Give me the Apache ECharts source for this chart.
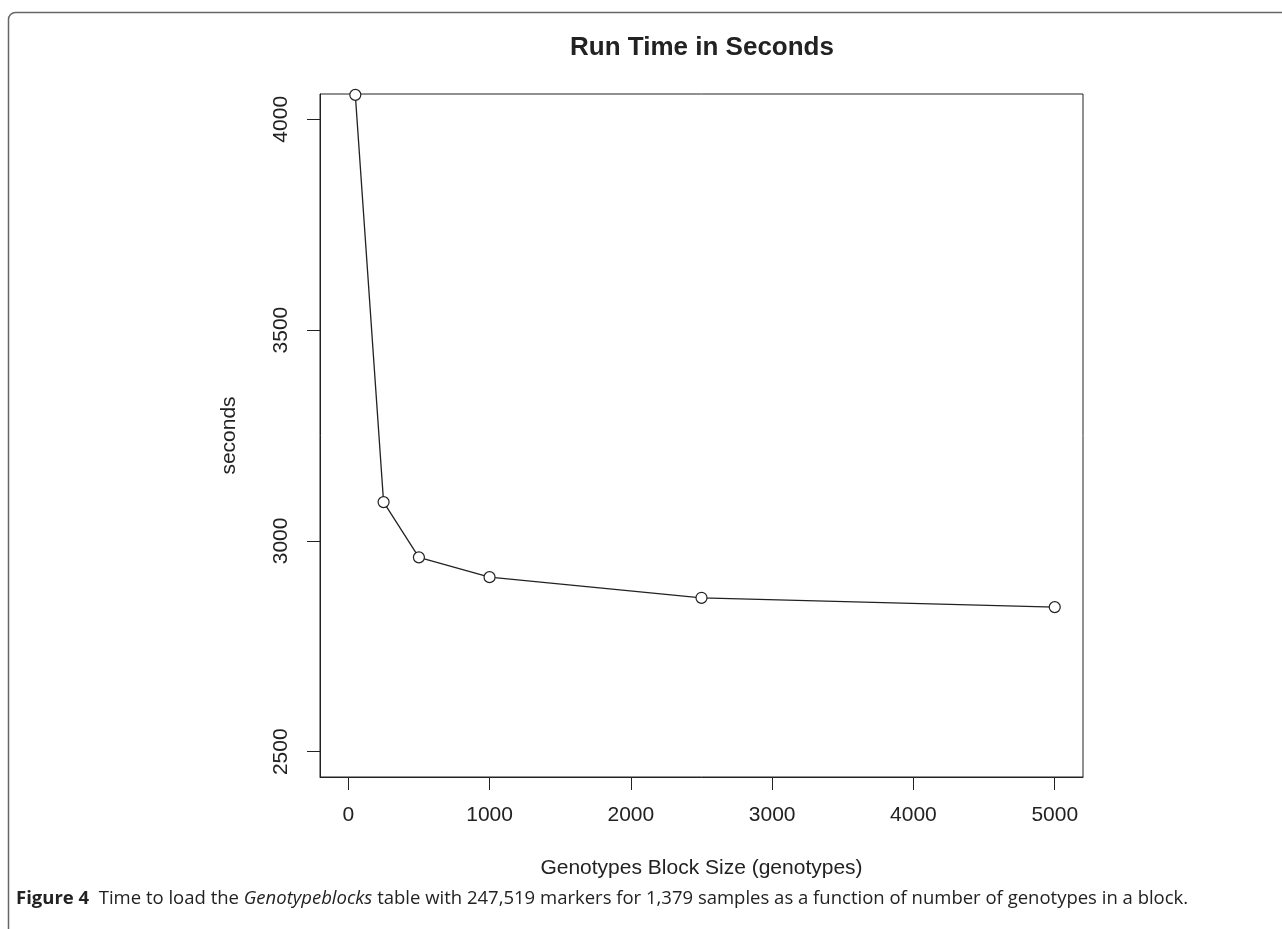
<!DOCTYPE html>
<html>
<head>
<meta charset="utf-8">
<script src="https://cdn.jsdelivr.net/npm/echarts@6/dist/echarts.min.js"></script>
<style>
html,body{margin:0;padding:0;background:#fff;}
#chart{width:1282px;height:929px;}
</style>
</head>
<body>
<div id="chart"></div>
<script>
// Data
const blockSizes = [50, 250, 500, 1000, 2500, 5000];
const seconds = [4058, 3092, 2961, 2914, 2865, 2843];
const xTicks = [0, 1000, 2000, 3000, 4000, 5000];
const yTicks = [2500, 3000, 3500, 4000];
const chartTitle = 'Run Time in Seconds';
const xTitle = 'Genotypes Block Size (genotypes)';
const yTitle = 'seconds';

const ink = '#222';
const chart = echarts.init(document.getElementById('chart'), null, {renderer: 'canvas'});
const seriesData = blockSizes.map((x, i) => [x, seconds[i]]);
const plain = v => String(v);

chart.setOption({
  animation: false,
  backgroundColor: '#fff',
  title: {
    text: chartTitle,
    left: 697,
    top: 30,
    textAlign: 'center',
    textStyle: {fontFamily: 'Liberation Sans, Arial, sans-serif', fontWeight: 'bold', fontSize: 26, color: ink}
  },
  grid: {
    left: 320, right: 199, top: 94, bottom: 152,
    show: true, borderColor: ink, borderWidth: 1, backgroundColor: 'transparent'
  },
  xAxis: {
    type: 'value', min: -200, max: 5200,
    name: xTitle, nameLocation: 'middle', nameGap: 81,
    nameTextStyle: {fontFamily: 'Liberation Sans, Arial, sans-serif', fontSize: 21, color: ink},
    axisLine: {show: true, onZero: false, lineStyle: {color: ink, width: 1}},
    axisTick: {show: true, inside: false, length: 13, customValues: xTicks, lineStyle: {color: ink, width: 1}},
    axisLabel: {show: true, customValues: xTicks, formatter: plain, margin: 28, fontFamily: 'Liberation Sans, Arial, sans-serif', fontSize: 21, color: ink},
    splitLine: {show: false}
  },
  yAxis: {
    type: 'value', min: 2440, max: 4060,
    name: yTitle, nameLocation: 'middle', nameGap: 80, nameRotate: 90,
    nameTextStyle: {fontFamily: 'Liberation Sans, Arial, sans-serif', fontSize: 21, color: ink},
    axisLine: {show: true, onZero: false, lineStyle: {color: ink, width: 1}},
    axisTick: {show: true, inside: false, length: 13, customValues: yTicks, lineStyle: {color: ink, width: 1}},
    axisLabel: {show: true, customValues: yTicks, formatter: plain, rotate: 90, margin: 28, fontFamily: 'Liberation Sans, Arial, sans-serif', fontSize: 21, color: ink},
    splitLine: {show: false}
  },
  series: [{
    type: 'line',
    data: seriesData,
    clip: true,
    symbol: 'circle',
    symbolSize: 11,
    showAllSymbol: true,
    lineStyle: {color: ink, width: 1.3},
    itemStyle: {color: '#fff', borderColor: ink, borderWidth: 1.2},
    emphasis: {disabled: true}
  }],
  graphic: [
    {
      type: 'rect',
      shape: {x: 8.5, y: 12.5, width: 1400, height: 1100, r: 7},
      style: {fill: 'none', stroke: '#666', lineWidth: 1.5},
      silent: true, z: -1
    },
    {
      type: 'text',
      x: 16, y: 899,
      style: {
        text: '{b|Figure 4}  Time to load the {i|Genotypeblocks} table with 247,519 markers for 1,379 samples as a function of number of genotypes in a block.',
        fontFamily: 'Open Sans, Noto Sans, sans-serif',
        fontSize: 18.5,
        fill: ink,
        verticalAlign: 'middle',
        rich: {
          b: {fontFamily: 'Open Sans, Noto Sans, sans-serif', fontWeight: 'bold', fontSize: 18.5, fill: ink},
          i: {fontFamily: 'Open Sans, Noto Sans, sans-serif', fontStyle: 'italic', fontSize: 18.5, fill: ink}
        }
      },
      silent: true
    }
  ]
});
</script>
</body>
</html>
